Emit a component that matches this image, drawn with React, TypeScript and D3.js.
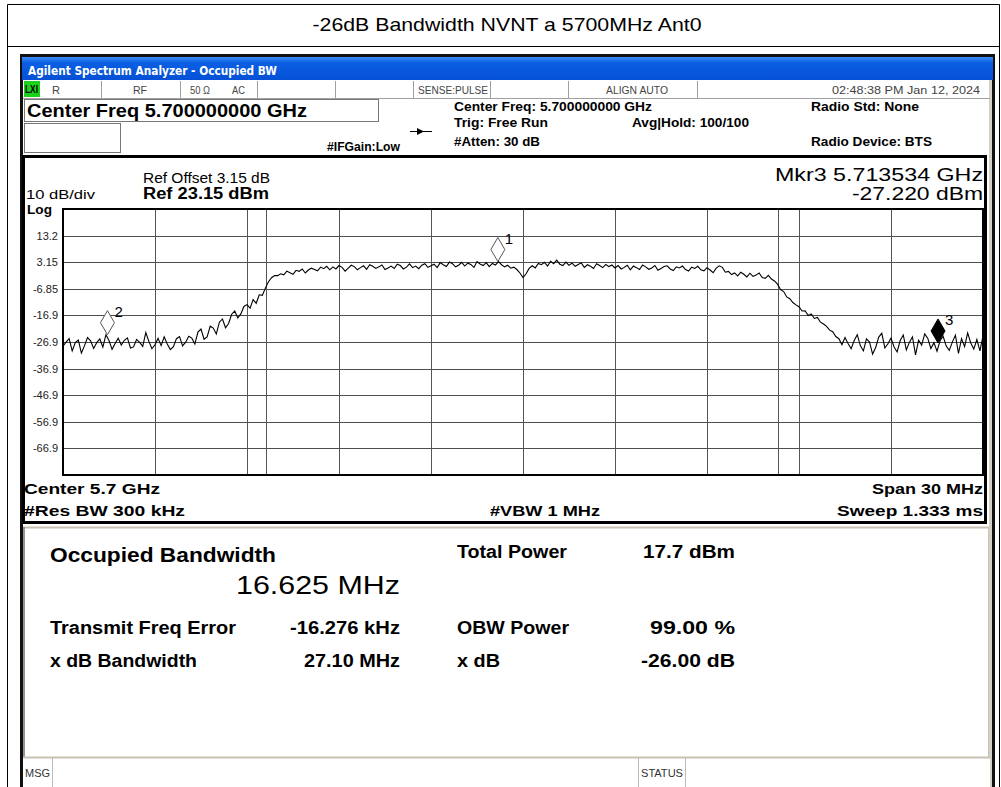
import React from 'react';
import * as d3 from 'd3';

// sweep: 5.685 GHz .. 5.715 GHz, one reading every 0.1 MHz
const traceStartGHz = 5.685;
const traceStepGHz = 0.0001;
const traceDbm = [
  // lower noise floor
  -28.4, -26.9, -25.6, -30.2, -27.1, -26.1, -31.0, -28.3, -25.2, -26.4,
  -29.3, -27.1, -25.7, -28.8, -24.1, -26.3, -29.6, -27.4, -25.4, -28.0,
  -26.2, -25.3, -29.1, -28.7, -25.9, -27.0, -28.5, -23.3, -26.6, -29.4,
  -27.9, -25.5, -28.2, -24.9, -27.6, -29.7, -28.6, -25.6, -24.8, -28.3,
  -26.9, -24.7,
  // lower skirt
  -25.4, -27.6, -23.1, -22.0, -25.8, -24.9, -20.9, -21.6, -23.8, -19.4,
  -18.2, -21.5, -19.9, -16.4, -15.2, -17.8, -16.3, -13.5, -12.8, -14.1,
  -10.9, -12.3, -9.1, -9.3, -6.6, -4.2, -2.7, -1.9,
  // channel
  -1.9, -1.2, -1.6, -0.2, -0.8, -1.4, 0.1, -0.3, 0.6, -0.9,
  0.2, 0.9, 0.4, -0.1, 1.3, 0.7, 1.6, 0.3,
  1.4, 0.6, 1.9, 1.2, -0.2, 0.9, 2.0, 1.5, 0.3, 1.1,
  1.8, 0.5, 2.2, 1.6, 0.8, 1.4, 2.1, 0.4, 1.0, 1.7,
  0.8, 2.4, 1.9, 0.6, 1.3, 2.5, 1.1, 1.7, 0.7, 2.0,
  2.6, 1.2, 1.8,
  2.4, 1.1, 3.0, 2.2, 1.5, 3.2, 2.6, 1.4, 2.0, 3.1,
  1.7, 2.8, 2.3, 1.2, 3.4, 2.5, 1.9, 3.0, 1.5, 2.7,
  2.1, 3.4,
  2.2, 1.4, 2.0, 0.9, 1.3, 0.4,
  -0.9, -2.6, -1.2, 0.8,
  1.8, 1.0, 2.7, 2.2, 3.1, 1.7, 3.5, 2.6, 3.9, 2.4, 1.9, 3.2, 2.0,
  2.8, 1.6, 2.3, 2.9, 1.2, 2.2, 1.6, 0.8, 2.6, 1.9, 1.1, 2.3, 1.5, 2.1, 1.0,
  1.9, 0.6, 1.2, 2.0, 0.3, 1.7, 1.1, 0.4, 2.1, 1.4,
  0.5, 1.0, 1.9, 0.1, 0.8, 1.5, 1.8, 0.6, 0.0, 1.4,
  1.0, 1.7, 0.4, -0.2, 1.3, 0.8, 1.6, 0.3, -0.1, 1.1,
  0.2, -0.8, 0.9, 1.8, 1.2, -0.6,
  -0.3, -1.5, -0.9, -2.0, -0.6, -1.4, -2.4, -1.0, -2.2, -1.7, -0.9, -2.6, -2.9, -1.8, -3.2,
  // upper skirt
  -3.9, -5.1, -7.2, -7.9, -9.9, -10.6, -12.0, -12.9, -13.6, -15.2,
  -15.1, -16.9, -16.3, -18.0, -17.6, -19.4, -20.1, -21.0, -22.4, -23.0,
  -24.8, -25.6, -27.9,
  // upper noise floor
  -25.2, -27.4, -29.4, -26.3, -24.1, -28.2, -30.2, -25.7, -26.9, -31.4,
  -28.9, -25.0, -23.6, -29.1, -27.5, -25.4, -28.7, -30.6, -26.3, -24.2,
  -29.8, -27.0, -24.9, -31.7, -26.2, -28.0, -23.8, -25.5, -29.3, -27.1,
  -30.3, -26.4, -24.7, -28.4, -30.0, -26.9, -24.3, -31.1, -25.6, -28.6,
  -23.4, -27.2, -29.5, -25.9, -30.2, -24.5,
];

const yTickLabels = ['13.2', '3.15', '-6.85', '-16.9', '-26.9', '-36.9', '-46.9', '-56.9', '-66.9'];
const refLevel = 23.15;
const dbPerDiv = 10;

const markerIds = ['1', '2', '3'];
const markerFreqs = [5.69918, 5.68645, 5.713534];
const markerLevels = [3.4, -24.1, -27.22];
const markerActive = [false, false, true];

// occupied bandwidth edge lines
const bandLineFreqs = [5.69162, 5.708315];

const statusCells = ['R', 'RF', '50 Ω', 'AC', 'SENSE:PULSE', 'ALIGN AUTO'];

const resultLeftLabels = ['Transmit Freq Error', 'x dB Bandwidth'];
const resultLeftValues = ['-16.276 kHz', '27.10 MHz'];
const resultRightLabels = ['Total Power', 'OBW Power', 'x dB'];
const resultRightValues = ['17.7 dBm', '99.00 %', '-26.00 dB'];

const SANS = '"Liberation Sans", Arial, sans-serif';
const NARROW = '"Liberation Sans Narrow", "Liberation Sans", Arial, sans-serif';

function T(props: any) {
  const { x, y, w, size = 12, bold = false, anchor = 'start', fill = '#000', family = SANS, children } = props;
  return (
    <text
      x={x}
      y={y}
      fontSize={size}
      fontWeight={bold ? 'bold' : 'normal'}
      textAnchor={anchor}
      fill={fill}
      fontFamily={family}
      textLength={w}
      lengthAdjust={w ? 'spacingAndGlyphs' : undefined}
    >
      {children}
    </text>
  );
}

export default function App() {
  const left = 63, right = 983, top = 209, bottom = 475;
  const x = d3.scaleLinear().domain([5.685, 5.715]).range([left, right]);
  const y = d3.scaleLinear().domain([refLevel - dbPerDiv * 10, refLevel]).range([bottom, top]);

  const line = d3
    .line<number>()
    .x((_, i) => x(traceStartGHz + i * traceStepGHz))
    .y((d) => y(d));

  const vGrid = d3.range(1, 10).map((k) => 5.685 + k * 0.003);
  const hGrid = d3.range(1, 10).map((k) => refLevel - k * dbPerDiv);

  const cellSeps = [101, 180, 257, 335, 413, 490, 568, 697];
  const cellTextX = [52, 133, 190, 232, 418, 606];
  const cellTextW = [8, 14, 20, 13, 70, 62];

  const leftW = [186, 147];
  const leftValW = [110, 96];
  const rightW = [110, 112, 43];
  const rightValW = [92, 85, 94];
  const rowY = [558, 634, 667];

  return (
    <div style={{ position: 'absolute', left: 0, top: 0 }}>
      <svg width={1001} height={787} style={{ display: 'block' }}>
        <defs>
          <linearGradient id="titlebar" x1="0" y1="0" x2="0" y2="1">
            <stop offset="0" stopColor="#3d8cf5" />
            <stop offset="0.25" stopColor="#0b5fe3" />
            <stop offset="1" stopColor="#0550d6" />
          </linearGradient>
          <clipPath id="plotclip">
            <rect x={left} y={top} width={right - left} height={bottom - top} />
          </clipPath>
        </defs>
        <rect x={0} y={0} width={1001} height={787} fill="#fff" />

        {/* outer report frame and title */}
        <path d="M7.5,787 V4.5 H999.5 V787" fill="none" stroke="#000" />
        <line x1={7} x2={1000} y1={46.5} y2={46.5} stroke="#000" />
        <T x={507} y={31} w={389} size={19} anchor="middle">
          -26dB Bandwidth NVNT a 5700MHz Ant0
        </T>

        {/* analyzer window */}
        <rect x={20} y={54} width={975} height={740} fill="#111" />
        <rect x={22} y={57} width={971} height={23} fill="url(#titlebar)" />
        <T x={28} y={75} w={249} size={13} bold fill="#fff" family='"DejaVu Sans", Verdana, sans-serif'>
          Agilent Spectrum Analyzer - Occupied BW
        </T>
        <rect x={23} y={80} width={968} height={710} fill="#fff" />
        <rect x={989} y={80} width={3} height={710} fill="#d4d0c8" />

        {/* status row */}
        <line x1={23} x2={990} y1={98.5} y2={98.5} stroke="#a0a0a0" />
        <rect x={24} y={81} width={16} height={16} fill="#19d219" />
        <T x={25} y={93} w={13} size={10} bold family={NARROW}>LXI</T>
        {cellSeps.map((s) => (
          <line key={s} x1={s + 0.5} x2={s + 0.5} y1={81} y2={98} stroke="#a0a0a0" />
        ))}
        {statusCells.map((c, i) => (
          <T key={c} x={cellTextX[i]} y={94} w={cellTextW[i]} size={11} fill="#444" family={NARROW}>
            {c}
          </T>
        ))}
        <T x={980} y={94} w={148} size={11} anchor="end" fill="#444" family={NARROW}>
          02:48:38 PM Jan 12, 2024
        </T>

        {/* header boxes */}
        <rect x={24.5} y={99.5} width={354} height={22} fill="#fff" stroke="#777" />
        <T x={27} y={117} w={280} size={18} bold>Center Freq 5.700000000 GHz</T>
        <rect x={24.5} y={123.5} width={96} height={29} fill="#fff" stroke="#777" />
        <T x={327} y={151} w={73} size={12} bold>#IFGain:Low</T>
        <line x1={410} x2={432} y1={131.5} y2={131.5} stroke="#000" />
        <path d="M417,128 L424,131.5 L417,135 Z" fill="#000" />
        <T x={454} y={111} w={198} size={13} bold>Center Freq: 5.700000000 GHz</T>
        <T x={454} y={127} w={94} size={13} bold>Trig: Free Run</T>
        <T x={454} y={146} w={86} size={13} bold>#Atten: 30 dB</T>
        <T x={632} y={127} w={117} size={13} bold>Avg|Hold: 100/100</T>
        <T x={811} y={111} w={108} size={13} bold>Radio Std: None</T>
        <T x={811} y={146} w={121} size={13} bold>Radio Device: BTS</T>

        {/* graticule panel */}
        <rect x={23.5} y={156.5} width={962} height={366} fill="#fff" stroke="#000" strokeWidth={3} />
        <T x={143} y={183} w={127} size={14} family={NARROW}>Ref Offset 3.15 dB</T>
        <T x={143} y={199} w={126} size={16} bold>Ref 23.15 dBm</T>
        <T x={26} y={199} w={69} size={13}>10 dB/div</T>
        <T x={27} y={214} w={25} size={13} bold>Log</T>
        <T x={983} y={181} w={208} size={18} anchor="end">Mkr3  5.713534 GHz</T>
        <T x={983} y={200} w={131} size={18} anchor="end">-27.220 dBm</T>

        {hGrid.map((v) => (
          <line key={v} x1={left} x2={right} y1={Math.round(y(v)) + 0.5} y2={Math.round(y(v)) + 0.5} stroke="#4d4d4d" />
        ))}
        {vGrid.concat(bandLineFreqs).map((f) => (
          <line key={f} x1={Math.round(x(f)) + 0.5} x2={Math.round(x(f)) + 0.5} y1={top} y2={bottom} stroke="#555" />
        ))}
        <rect x={left} y={top} width={right - left} height={bottom - top} fill="none" stroke="#000" strokeWidth={2} />
        {yTickLabels.map((l, i) => (
          <T key={l} x={58} y={y(hGrid[i]) + 4} size={11} anchor="end" fill="#222" family={NARROW}>
            {l}
          </T>
        ))}

        <path d={line(traceDbm) || ''} fill="none" stroke="#000" strokeWidth={1.1} clipPath="url(#plotclip)" />

        {markerIds.map((id, i) => {
          const mx = x(markerFreqs[i]);
          const my = y(markerLevels[i]);
          return (
            <g key={id}>
              <path
                d={`M${mx},${my} L${mx - 7},${my - 12} L${mx},${my - 24} L${mx + 7},${my - 12} Z`}
                fill={markerActive[i] ? '#000' : '#fff'}
                stroke={markerActive[i] ? '#000' : '#555'}
              />
              <T x={mx + 7} y={my - 18} size={15}>{id}</T>
            </g>
          );
        })}

        <T x={24} y={494} w={136} size={15} bold family={NARROW}>Center  5.7 GHz</T>
        <T x={24} y={516} w={161} size={15} bold family={NARROW}>#Res BW  300 kHz</T>
        <T x={490} y={516} w={110} size={15} bold family={NARROW}>#VBW  1 MHz</T>
        <T x={983} y={494} w={111} size={15} bold anchor="end" family={NARROW}>Span 30 MHz</T>
        <T x={983} y={516} w={146} size={15} bold anchor="end" family={NARROW}>Sweep  1.333 ms</T>

        {/* results panel */}
        <line x1={23} x2={989} y1={527.5} y2={527.5} stroke="#c9c2b4" strokeWidth={2} />
        <line x1={24} x2={24} y1={527} y2={757} stroke="#9a958c" strokeWidth={2} />
        <line x1={988.5} x2={988.5} y1={527} y2={757} stroke="#c9c2b4" />
        <T x={50} y={562} w={226} size={20} bold>Occupied Bandwidth</T>
        <T x={400} y={594} w={164} size={26} anchor="end">16.625 MHz</T>
        {resultLeftLabels.map((l, i) => (
          <g key={l}>
            <T x={50} y={rowY[i + 1]} w={leftW[i]} size={18} bold>{l}</T>
            <T x={400} y={rowY[i + 1]} w={leftValW[i]} size={18} bold anchor="end">{resultLeftValues[i]}</T>
          </g>
        ))}
        {resultRightLabels.map((l, i) => (
          <g key={l}>
            <T x={457} y={rowY[i]} w={rightW[i]} size={18} bold>{l}</T>
            <T x={735} y={rowY[i]} w={rightValW[i]} size={18} bold anchor="end">{resultRightValues[i]}</T>
          </g>
        ))}

        {/* message bar */}
        <rect x={23} y={757} width={967} height={30} fill="#fff" />
        <line x1={23} x2={990} y1={757.5} y2={757.5} stroke="#c9c2b4" strokeWidth={2} />
        <line x1={52.5} x2={52.5} y1={758} y2={787} stroke="#bbb" />
        <line x1={638.5} x2={638.5} y1={758} y2={787} stroke="#bbb" />
        <line x1={685.5} x2={685.5} y1={758} y2={787} stroke="#bbb" />
        <T x={25} y={777} w={25} size={11} fill="#333" family={NARROW}>MSG</T>
        <T x={641} y={777} w={42} size={11} fill="#333" family={NARROW}>STATUS</T>
      </svg>
    </div>
  );
}
